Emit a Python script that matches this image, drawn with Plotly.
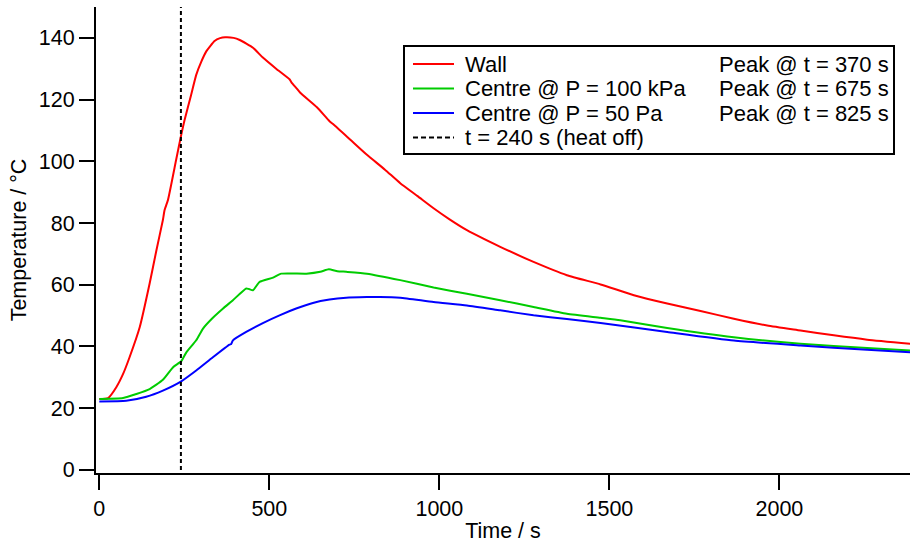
import plotly.graph_objects as go

# Wall thermocouple
wall_t = [0, 26, 50, 70, 89, 119, 148, 168, 187, 192, 202, 226, 241, 251, 270, 285, 300,
          315, 339, 355, 370, 395, 413, 452, 481, 520, 560, 565, 579, 591, 640, 677, 689,
          740, 787, 840, 885, 935, 983, 1030, 1081, 1179, 1277, 1375, 1474, 1572, 1670,
          1768, 1866, 1964, 2062, 2160, 2258, 2385]
wall_T = [23.0, 23.3, 26.8, 31.1, 36.5, 46.3, 60.4, 71.2, 81.0, 84.2, 87.5, 100.5, 108.6,
          113.5, 121.5, 128.0, 132.3, 135.7, 139.0, 139.9, 140.2, 140.0, 139.3, 136.8, 133.6,
          130.0, 126.5, 125.6, 123.8, 122.2, 117.5, 113.0, 111.9, 106.8, 102.1, 97.3, 92.9,
          88.8, 84.8, 81.2, 77.7, 72.3, 67.4, 63.1, 60.1, 56.6, 53.9, 51.5, 49.0, 46.8, 45.2,
          43.6, 42.2, 40.9]

# Centre thermocouple, chamber at 100 kPa
c100_t = [0, 70, 109, 148, 187, 217, 241, 256, 285, 305, 334, 364, 393, 432, 440, 452, 471,
          511, 535, 609, 650, 675, 700, 726, 787, 885, 983, 1081, 1179, 1277, 1375, 1474,
          1532, 1670, 1866, 2062, 2258, 2385]
c100_T = [23.0, 23.3, 24.6, 26.2, 29.2, 33.3, 35.2, 38.1, 42.0, 45.8, 49.3, 52.3, 55.0, 58.8,
          58.6, 58.2, 60.9, 62.3, 63.6, 63.6, 64.2, 65.0, 64.4, 64.2, 63.6, 61.5, 59.1, 57.1,
          55.0, 52.8, 50.6, 49.3, 48.5, 46.0, 43.0, 40.9, 39.5, 38.7]

# Centre thermocouple, chamber at 50 Pa
c50_t = [0, 79, 138, 187, 241, 285, 334, 383, 388, 393, 432, 481, 530, 579, 628, 677, 726,
         787, 825, 885, 983, 1081, 1179, 1277, 1375, 1474, 1670, 1866, 2062, 2258, 2385]
c50_T = [22.2, 22.4, 23.7, 25.7, 28.7, 32.2, 36.5, 40.6, 40.8, 42.0, 44.7, 47.6, 50.1, 52.3,
         54.1, 55.2, 55.8, 56.0, 56.05, 55.8, 54.4, 53.3, 51.7, 50.1, 48.9, 47.6, 44.7, 41.9,
         40.3, 38.9, 38.1]

heat_off_time = 240
series_names = ["Wall", "Centre @ P = 100 kPa", "Centre @ P = 50 Pa"]
peak_times = [370, 675, 825]
heat_off_name = f"t = {heat_off_time} s (heat off)"

x_ticks = [0, 500, 1000, 1500, 2000]
y_ticks = [0, 20, 40, 60, 80, 100, 120, 140]

colors = ["#FF0000", "#00CC00", "#0000FF"]
FONT = "Liberation Sans, Arial, Helvetica, sans-serif"
TICK_SIZE = 21.5
KEY_SIZE = 22

fig = go.Figure()
for t, T, name, col in zip([wall_t, c100_t, c50_t], [wall_T, c100_T, c50_T],
                           series_names, colors):
    fig.add_trace(go.Scatter(x=t, y=T, mode="lines", name=name,
                             line=dict(color=col, width=2, shape="spline", smoothing=0.5),
                             showlegend=False))

fig.add_trace(go.Scatter(x=[heat_off_time, heat_off_time], y=[0, 150], mode="lines",
                         name=heat_off_name, showlegend=False,
                         line=dict(color="black", width=2, dash="4px,3px")))

# Plot-area geometry in pixels, used to place the boxed key
W, H = 910, 545
L, R, T_, B = 96, 0, 7, 72
pw, ph = W - L - R, H - T_ - B


def px(xp):
    return (xp - L) / pw


def py(yp):
    return (H - B - yp) / ph


shapes = [dict(type="rect", xref="paper", yref="paper",
               x0=px(404), x1=px(894), y0=py(154), y1=py(46),
               line=dict(color="black", width=2), fillcolor="white", layer="above")]
annotations = []
row_y = [64, 88.5, 113, 137.5]
key_styles = [dict(color=c, width=2) for c in colors] + \
             [dict(color="black", width=2, dash="5px,3px")]
key_labels = series_names + [heat_off_name]
for i, (yy, st, lab) in enumerate(zip(row_y, key_styles, key_labels)):
    shapes.append(dict(type="line", xref="paper", yref="paper", x0=px(413), x1=px(454),
                       y0=py(yy), y1=py(yy), line=st, layer="above"))
    annotations.append(dict(xref="paper", yref="paper", x=px(463), y=py(yy),
                            xanchor="left", yanchor="middle", text=lab, showarrow=False,
                            font=dict(size=KEY_SIZE, family=FONT, color="black")))
    if i < len(peak_times):
        annotations.append(dict(xref="paper", yref="paper", x=px(891), y=py(yy),
                                xanchor="right", yanchor="middle",
                                text=f"Peak @ t = {peak_times[i]} s", showarrow=False,
                                font=dict(size=KEY_SIZE, family=FONT, color="black")))

fig.update_layout(
    width=W, height=H,
    margin=dict(l=L, r=R, t=T_, b=B, pad=0),
    plot_bgcolor="white", paper_bgcolor="white",
    font=dict(family=FONT, size=TICK_SIZE, color="black"),
    showlegend=False,
    shapes=shapes, annotations=annotations,
    xaxis=dict(range=[-9.7, 2384], tickvals=x_ticks, ticks="outside", ticklen=15,
               tickwidth=2, tickcolor="black", showline=True, linewidth=2,
               linecolor="black", showgrid=False, zeroline=False,
               tickfont=dict(size=TICK_SIZE),
               title=dict(text="Time / s", standoff=3, font=dict(size=TICK_SIZE))),
    yaxis=dict(range=[-1, 150], tickvals=y_ticks, ticks="outside", ticklen=15,
               tickwidth=2, tickcolor="black", showline=True, linewidth=2,
               linecolor="black", showgrid=False, zeroline=False,
               tickfont=dict(size=TICK_SIZE),
               title=dict(text="Temperature / °C", standoff=6, font=dict(size=TICK_SIZE))),
)

fig.write_html("out.html")
